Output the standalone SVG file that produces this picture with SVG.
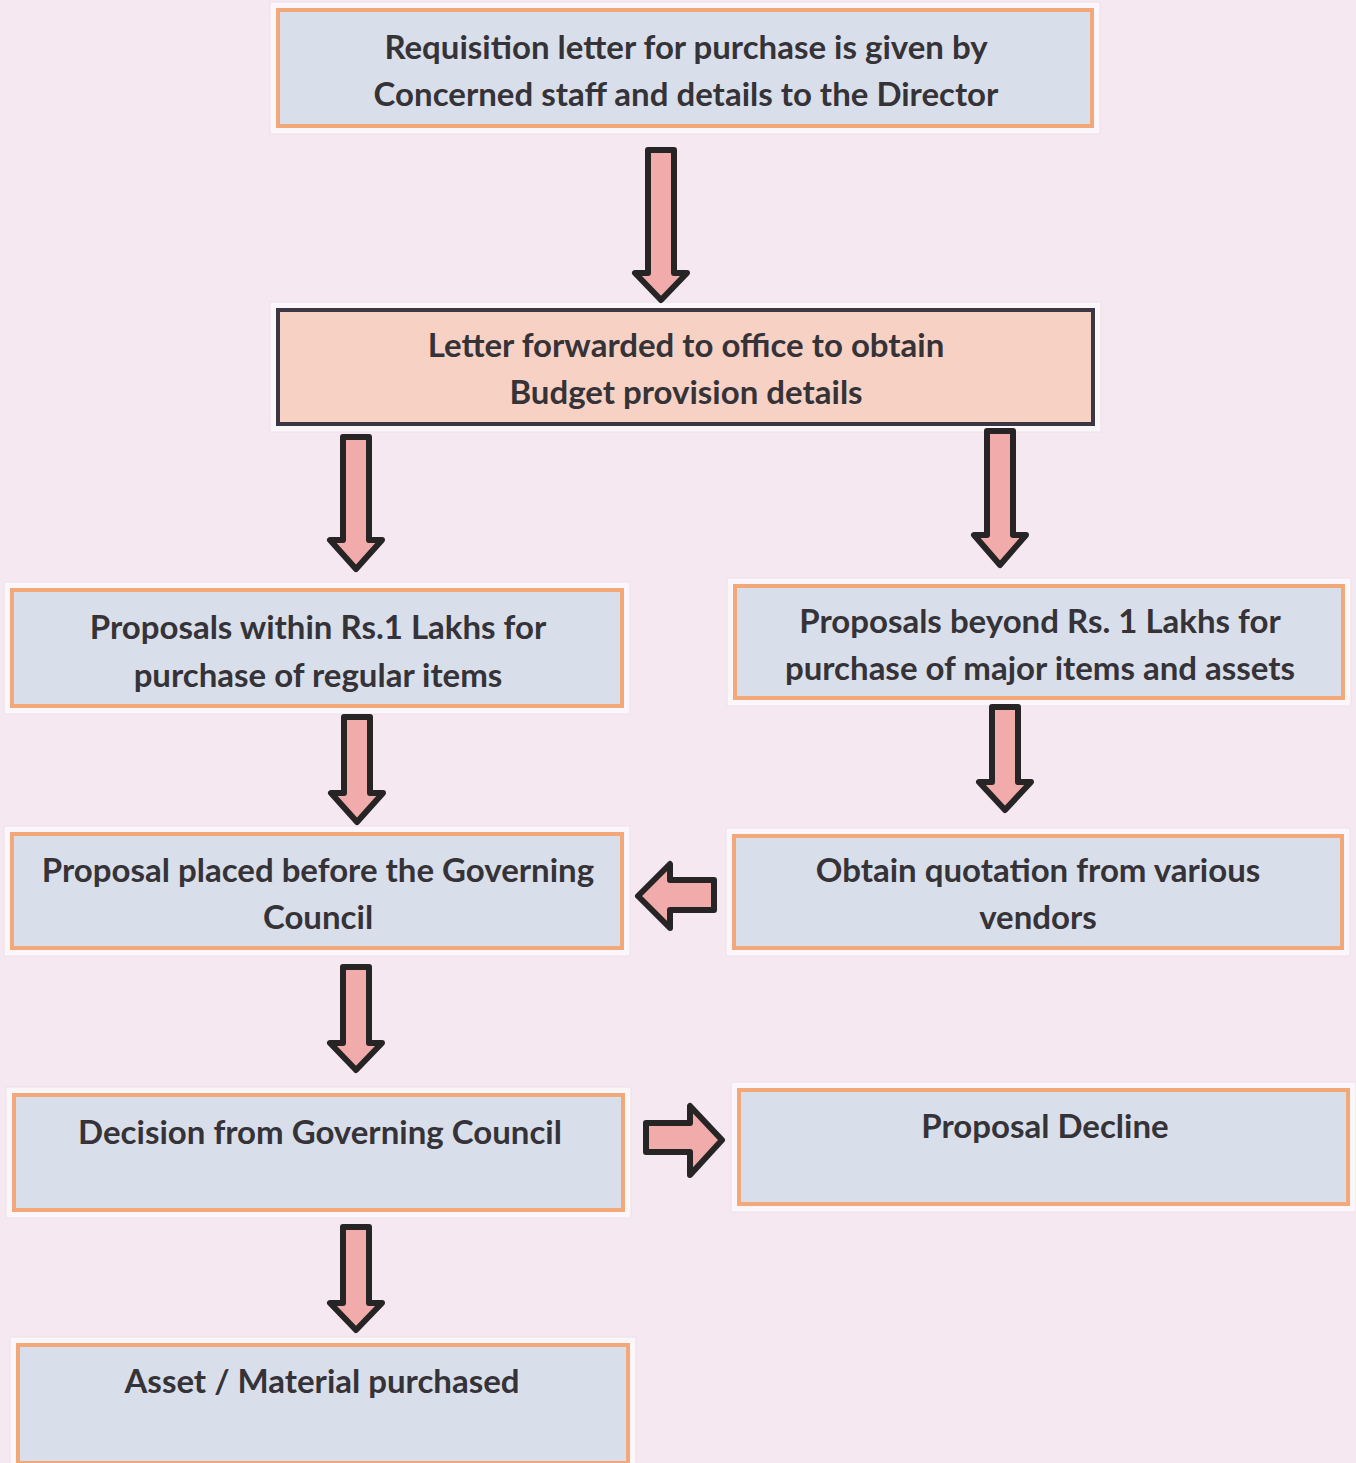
<svg xmlns="http://www.w3.org/2000/svg" width="1356" height="1463" viewBox="0 0 1356 1463">
<style>
.bg{fill:#f6e8f1}
.glow{fill:#fbf6fa;stroke:#ece0e8;stroke-width:1}
.box{fill:#d9dfea;stroke:#f2a878;stroke-width:4}
.box2{fill:#f7d2c4;stroke:#3b3844;stroke-width:4}
.t{font-family:Lato,"Open Sans",sans-serif;font-weight:bold;font-size:33px;fill:#363338;text-anchor:middle}
.arr{fill:#f2abab;stroke:#262424;stroke-width:6;stroke-linejoin:round}
</style>
<rect class="bg" x="0" y="0" width="1356" height="1463"/>
<g id="n1"><rect class="glow" x="270" y="2" width="830" height="132"/><rect class="box" x="278" y="10" width="814" height="116"/>
<text class="t" x="686" y="59">Requisition letter for purchase is given by</text>
<text class="t" x="686" y="106">Concerned staff and details to the Director</text></g>
<g id="n2"><rect class="glow" x="270" y="302" width="831" height="130"/><rect class="box2" x="278" y="310" width="815" height="114"/>
<text class="t" x="686" y="357">Letter forwarded to office to obtain</text>
<text class="t" x="686" y="404">Budget provision details</text></g>
<g id="n3"><rect class="glow" x="4" y="582" width="626" height="132"/><rect class="box" x="12" y="590" width="610" height="116"/>
<text class="t" x="318" y="639">Proposals within Rs.1 Lakhs for</text>
<text class="t" x="318" y="687">purchase of regular items</text></g>
<g id="n4"><rect class="glow" x="727" y="578" width="624" height="128"/><rect class="box" x="735" y="586" width="608" height="112"/>
<text class="t" x="1040" y="633">Proposals beyond Rs. 1 Lakhs for</text>
<text class="t" x="1040" y="680">purchase of major items and assets</text></g>
<g id="n5"><rect class="glow" x="4" y="826" width="626" height="130"/><rect class="box" x="12" y="834" width="610" height="114"/>
<text class="t" x="318" y="882">Proposal placed before the Governing</text>
<text class="t" x="318" y="929">Council</text></g>
<g id="n6"><rect class="glow" x="726" y="828" width="624" height="128"/><rect class="box" x="734" y="836" width="608" height="112"/>
<text class="t" x="1038" y="882">Obtain quotation from various</text>
<text class="t" x="1038" y="929">vendors</text></g>
<g id="n7"><rect class="glow" x="6" y="1087" width="625" height="131"/><rect class="box" x="14" y="1095" width="609" height="115"/>
<text class="t" x="320" y="1144">Decision from Governing Council</text></g>
<g id="n8"><rect class="glow" x="731" y="1082" width="625" height="130"/><rect class="box" x="739" y="1090" width="609" height="114"/>
<text class="t" x="1045" y="1138">Proposal Decline</text></g>
<g id="n9"><rect class="glow" x="10" y="1337" width="626" height="131"/><rect class="box" x="18" y="1345" width="610" height="118"/>
<text class="t" x="322" y="1393">Asset / Material purchased</text></g>
<g id="connectors">
<path class="arr" d="M648,150 H674 V273 H687 L661,300 L635,273 H648 Z"/>
<path class="arr" d="M343,437 H369 V540 H382 L356,569 L330,540 H343 Z"/>
<path class="arr" d="M987,431 H1013 V535 H1026 L1000,565 L974,535 H987 Z"/>
<path class="arr" d="M344,717 H370 V793 H383 L357,822 L331,793 H344 Z"/>
<path class="arr" d="M992,707 H1018 V782 H1031 L1005,810 L979,782 H992 Z"/>
<path class="arr" d="M343,967 H369 V1043 H382 L356,1070 L330,1043 H343 Z"/>
<path class="arr" d="M343,1227 H369 V1303 H382 L356,1330 L330,1303 H343 Z"/>
<path class="arr" d="M714,880 V910 H670 V928 L638,896 L670,864 V880 Z"/>
<path class="arr" d="M646,1123 V1152 H690 V1175 L722,1140 L690,1106 V1123 Z"/>
</g>
</svg>
